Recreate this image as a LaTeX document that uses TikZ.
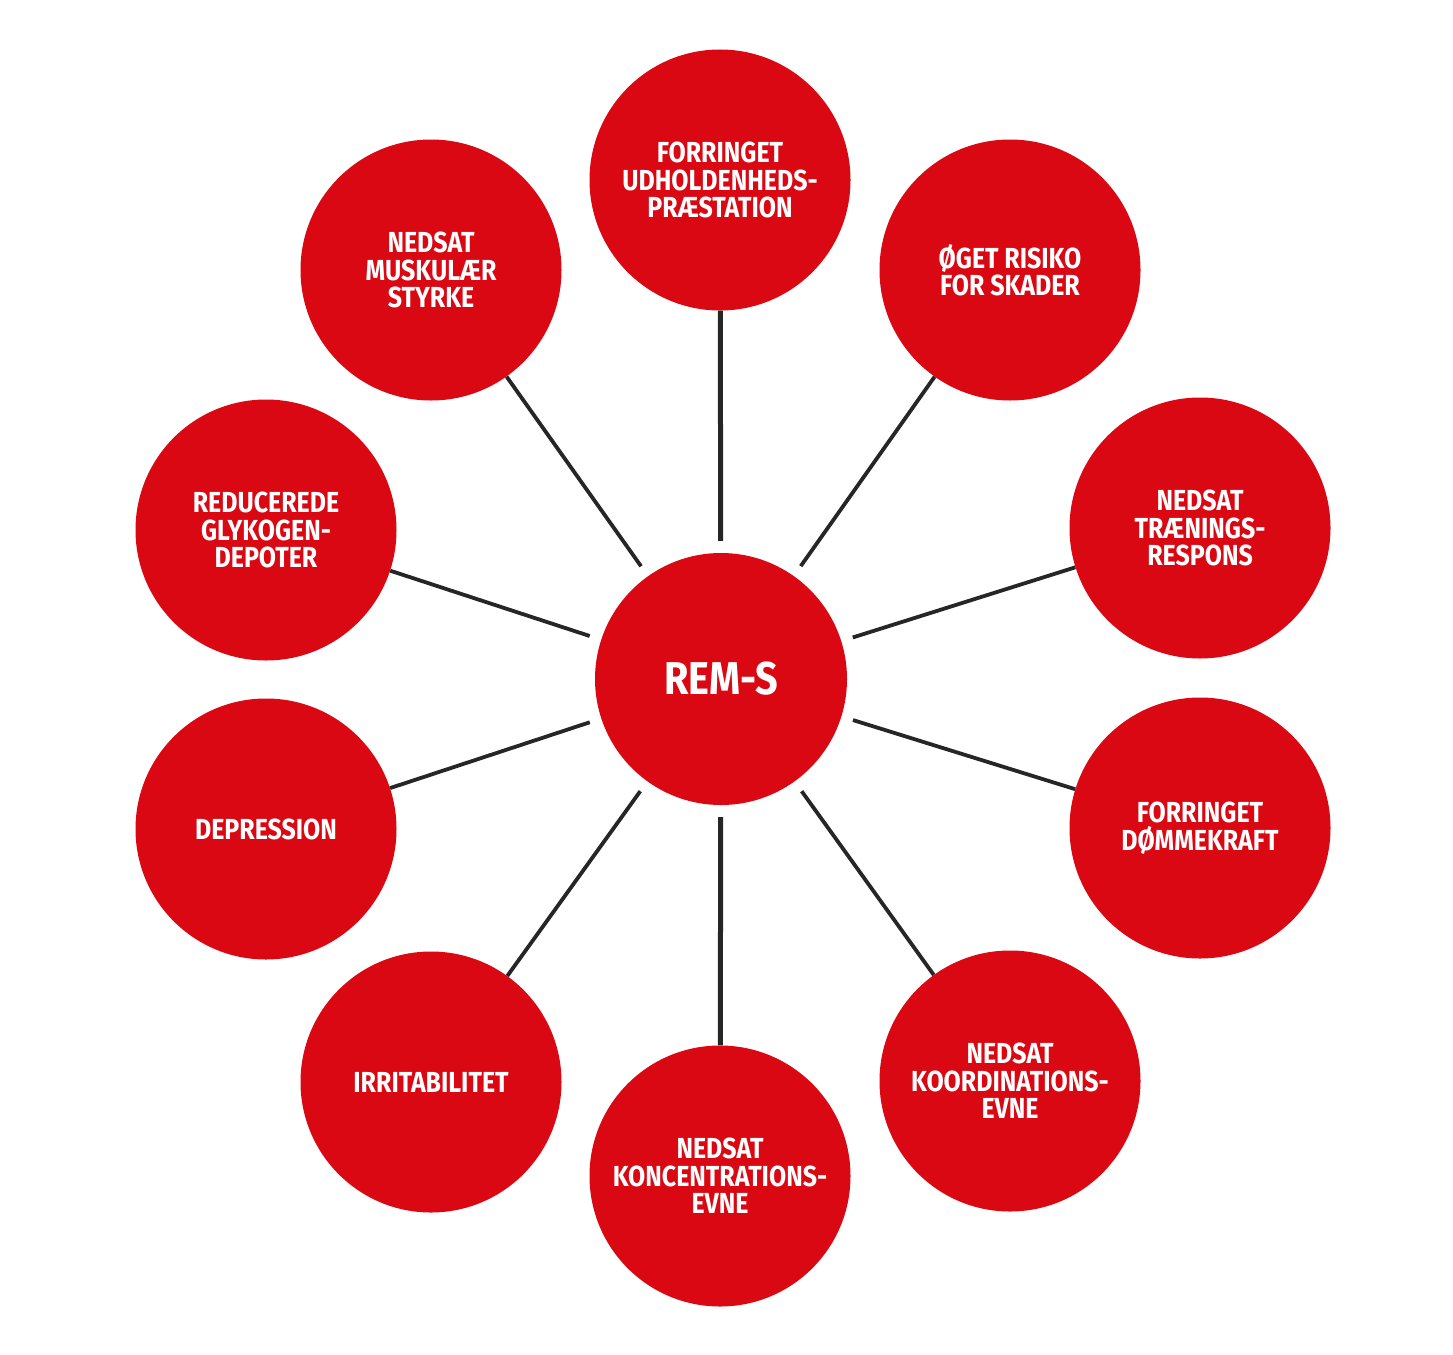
\documentclass[tikz,border=0pt]{standalone}
\usepackage{fontspec}
\newfontfamily\lbl{Fira Sans}[FakeStretch=0.86]
\definecolor{remred}{HTML}{D90812}
\definecolor{conn}{HTML}{262626}
\begin{document}
\begin{tikzpicture}[x=1pt,y=-1pt,
  outer/.style={circle,fill=remred,minimum size=261pt,inner sep=0pt,text=white,align=center,
    font=\lbl\bfseries\fontsize{29}{27.5}\selectfont},
  hub/.style={circle,fill=remred,minimum size=252pt,inner sep=0pt,text=white,
    font=\lbl\bfseries\fontsize{46}{46}\selectfont},
  link/.style={draw=conn,line width=3.8pt,shorten <=12pt},
  vlink/.style={link,line width=5pt}]
\useasboundingbox (0,0) rectangle (1453,1354);
\node[hub] (c) at (721,679) {REM-S};
\node[outer] (n1) at (720,180) {FORRINGET\\UDHOLDENHEDS-\\PRÆSTATION};
\node[outer] (n2) at (1010,270) {ØGET RISIKO\\FOR SKADER};
\node[outer] (n3) at (1200,528) {NEDSAT\\TRÆNINGS-\\RESPONS};
\node[outer] (n4) at (1200,828) {FORRINGET\\DØMMEKRAFT};
\node[outer] (n5) at (1010,1081) {NEDSAT\\KOORDINATIONS-\\EVNE};
\node[outer] (n6) at (720,1176) {NEDSAT\\KONCENTRATIONS-\\EVNE};
\node[outer] (n7) at (431,1082) {IRRITABILITET};
\node[outer] (n8) at (266,829) {DEPRESSION};
\node[outer] (n9) at (266,530) {REDUCEREDE\\GLYKOGEN-\\DEPOTER};
\node[outer] (n10) at (431,270) {NEDSAT\\MUSKULÆR\\STYRKE};
\draw[vlink] (c) -- (n1);
\draw[vlink] (c) -- (n6);
\foreach \n in {n2,n3,n4,n5,n7,n8,n9,n10}
  \draw[link] (c) -- (\n);
\end{tikzpicture}
\end{document}
